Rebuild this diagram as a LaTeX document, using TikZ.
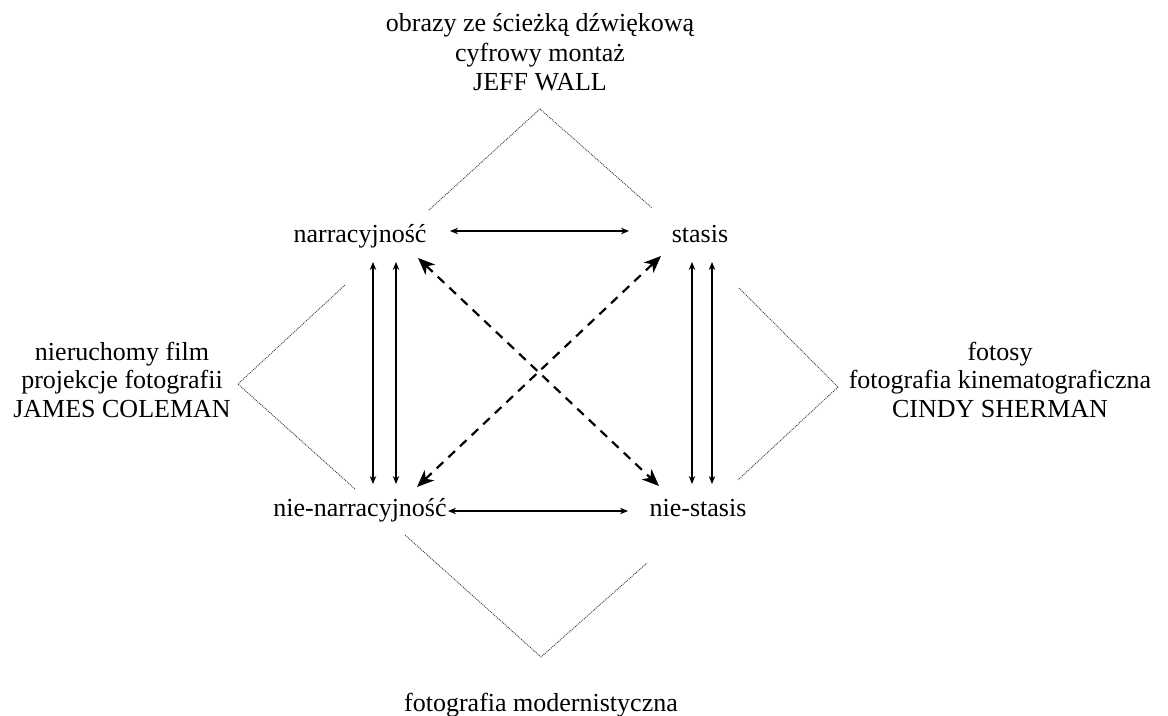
\documentclass[tikz,border=0pt]{standalone}
\usepackage{fontspec}
\setmainfont{Liberation Serif}
\usetikzlibrary{arrows.meta}
\begin{document}
\begin{tikzpicture}[x=1bp,y=-1bp,
  lbl/.style={inner sep=0pt,anchor=base,font=\fontsize{26bp}{30bp}\selectfont},
  solidarr/.style={line width=1.2bp,{Stealth[length=8bp,width=6.5bp]}-{Stealth[length=8bp,width=6.5bp]}},
  dasharr/.style={line width=2.2bp,dash pattern=on 9bp off 7bp,{Stealth[length=17bp,width=14bp,inset=5bp]}-{Stealth[length=17bp,width=14bp,inset=5bp]}},
  dotline/.style={line width=0.9bp,dash pattern=on 1bp off 1bp,black!75}]
\useasboundingbox (0,0) rectangle (1168,716);
% main terms
\node[lbl] (narr) at (360,242) {narracyjność};
\node[lbl] (stas) at (700,242) {stasis};
\node[lbl] (nnarr) at (360,516) {nie-narracyjność};
\node[lbl] (nstas) at (698,516) {nie-stasis};
% outer labels
\node[lbl] (t1) at (540,32) {obrazy ze ścieżką dźwiękową};
\node[lbl] (t2) at (540,62) {cyfrowy montaż};
\node[lbl] (t3) at (540,91) {JEFF WALL};
\node[lbl] (l1) at (122,360) {nieruchomy film};
\node[lbl] (l2) at (122,388) {projekcje fotografii};
\node[lbl] (l3) at (122,417) {JAMES COLEMAN};
\node[lbl] (r1) at (1000,360) {fotosy};
\node[lbl] (r2) at (1000,388) {fotografia kinematograficzna};
\node[lbl] (r3) at (1000,417) {CINDY SHERMAN};
\node[lbl] (b1) at (541,711) {fotografia modernistyczna};
% arrow end coordinates
\coordinate (hA1) at (450,231); \coordinate (hA2) at (629,231);
\coordinate (hB1) at (448,511); \coordinate (hB2) at (628,511);
\coordinate (vL1t) at (373,262); \coordinate (vL1b) at (373,484);
\coordinate (vL2t) at (396,262); \coordinate (vL2b) at (396,484);
\coordinate (vR1t) at (692,262); \coordinate (vR1b) at (692,484);
\coordinate (vR2t) at (712,262); \coordinate (vR2b) at (712,484);
\coordinate (dTL) at (418,258); \coordinate (dBR) at (659,486);
\coordinate (dTR) at (661,256); \coordinate (dBL) at (417,487);
% solid arrows
\draw[solidarr] (hA1) -- (hA2);
\draw[solidarr] (hB1) -- (hB2);
\draw[solidarr] (vL1t) -- (vL1b);
\draw[solidarr] (vL2t) -- (vL2b);
\draw[solidarr] (vR1t) -- (vR1b);
\draw[solidarr] (vR2t) -- (vR2b);
% dashed arrows
\draw[dasharr] (dTL) -- (dBR);
\draw[dasharr] (dBL) -- (dTR);
% dotted brackets
\coordinate (pt1) at (429,210); \coordinate (pt2) at (540,109); \coordinate (pt3) at (652,208);
\coordinate (pl1) at (345,285); \coordinate (pl2) at (238,384); \coordinate (pl3) at (355,489);
\coordinate (pr1) at (739,288); \coordinate (pr2) at (838,387); \coordinate (pr3) at (738,480);
\coordinate (pb1) at (405,535); \coordinate (pb2) at (541,657); \coordinate (pb3) at (647,563);
\draw[dotline] (pt1) -- (pt2) -- (pt3);
\draw[dotline] (pl1) -- (pl2) -- (pl3);
\draw[dotline] (pr1) -- (pr2) -- (pr3);
\draw[dotline] (pb1) -- (pb2) -- (pb3);
\end{tikzpicture}
\end{document}
